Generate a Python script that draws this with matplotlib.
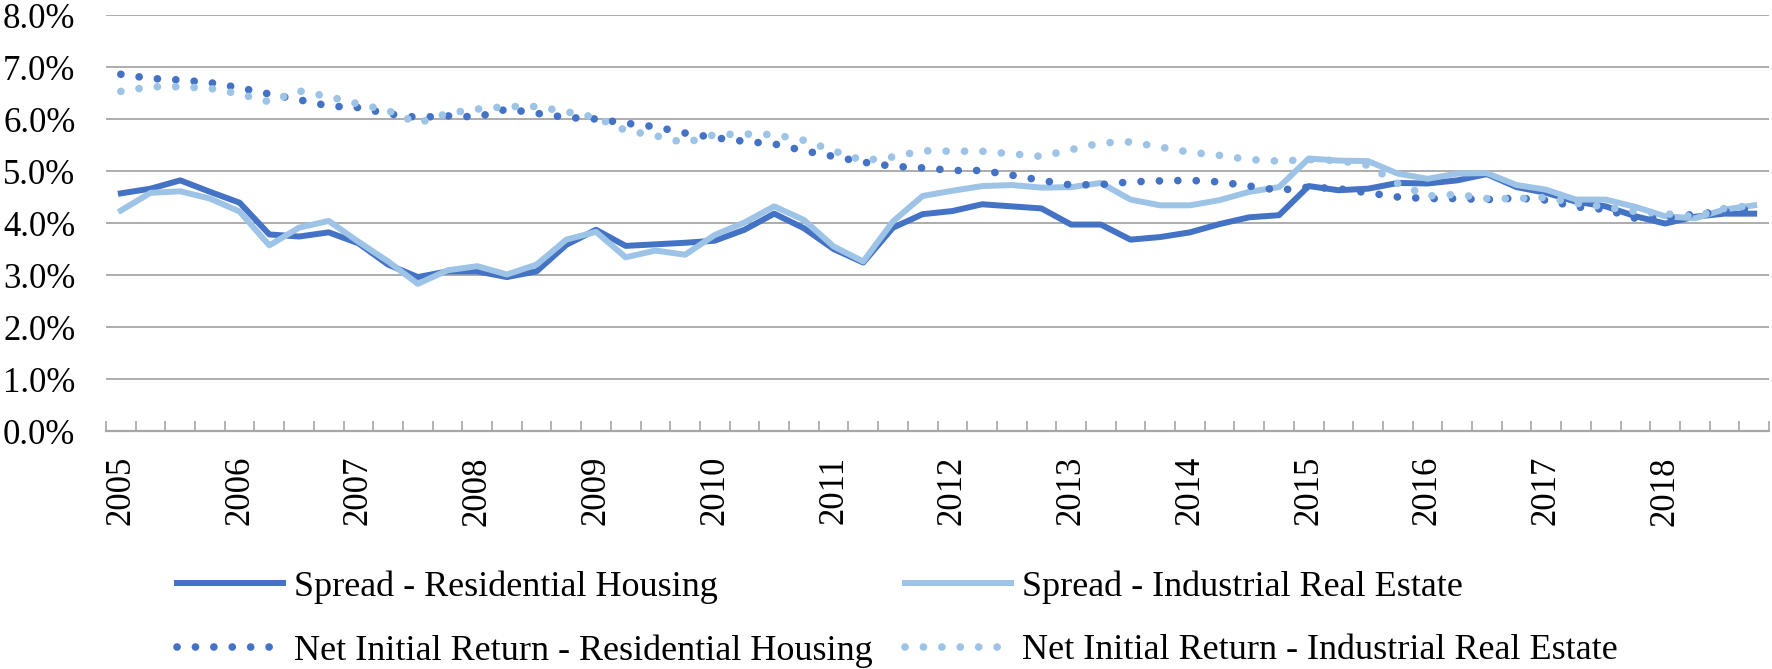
import numpy as np
import matplotlib
matplotlib.use('Agg')
import matplotlib.pyplot as plt
from matplotlib.ticker import PercentFormatter

plt.rcParams['font.family'] = ['Liberation Serif', 'DejaVu Serif']

years = [str(y) for y in range(2005, 2019)]
quarters = 56

spread_res = [4.57, 4.66, 4.82, 4.60, 4.39, 3.78, 3.74, 3.82, 3.61, 3.20, 2.96, 3.07, 3.07, 2.96,
              3.07, 3.58, 3.87, 3.56, 3.59, 3.62, 3.66, 3.87, 4.18, 3.90, 3.50, 3.24, 3.91, 4.17,
              4.23, 4.36, 4.32, 4.28, 3.97, 3.97, 3.68, 3.73, 3.82, 3.98, 4.11, 4.15, 4.71, 4.63,
              4.66, 4.77, 4.76, 4.82, 4.94, 4.69, 4.58, 4.41, 4.32, 4.13, 3.99, 4.12, 4.18, 4.18]
spread_ind = [4.24, 4.58, 4.61, 4.47, 4.22, 3.57, 3.91, 4.04, 3.64, 3.26, 2.83, 3.09, 3.17, 3.01,
              3.20, 3.68, 3.83, 3.34, 3.47, 3.39, 3.77, 4.01, 4.32, 4.06, 3.55, 3.26, 4.03, 4.52,
              4.62, 4.71, 4.73, 4.68, 4.69, 4.77, 4.45, 4.34, 4.34, 4.44, 4.60, 4.69, 5.24, 5.20,
              5.19, 4.95, 4.85, 4.95, 4.96, 4.73, 4.64, 4.45, 4.45, 4.31, 4.13, 4.09, 4.26, 4.34]
nir_res = [6.86, 6.78, 6.75, 6.70, 6.60, 6.48, 6.37, 6.25, 6.22, 6.10, 6.03, 6.06, 6.04, 6.19,
           6.11, 6.03, 6.00, 5.92, 5.85, 5.73, 5.64, 5.57, 5.52, 5.39, 5.28, 5.17, 5.09, 5.06,
           5.01, 5.01, 4.92, 4.82, 4.73, 4.74, 4.79, 4.81, 4.82, 4.79, 4.71, 4.63, 4.69, 4.66,
           4.58, 4.50, 4.47, 4.47, 4.45, 4.48, 4.44, 4.31, 4.26, 4.09, 4.09, 4.17, 4.22, 4.28]
nir_ind = [6.53, 6.62, 6.62, 6.59, 6.48, 6.33, 6.54, 6.43, 6.29, 6.16, 5.92, 6.11, 6.19, 6.24,
           6.24, 6.14, 6.03, 5.78, 5.68, 5.54, 5.70, 5.71, 5.70, 5.59, 5.39, 5.20, 5.27, 5.39,
           5.38, 5.38, 5.33, 5.28, 5.41, 5.54, 5.56, 5.46, 5.36, 5.30, 5.22, 5.19, 5.22, 5.20,
           5.11, 4.76, 4.52, 4.55, 4.47, 4.47, 4.49, 4.38, 4.31, 4.22, 4.18, 4.12, 4.28, 4.34]

dark = '#4472C4'
light = '#9DC3E6'
grey = '#A6A6A6'
fs = 25

fig = plt.figure(figsize=(17.72, 6.69), dpi=100)
ax = fig.add_axes([106/1772, 1 - 431/669, 1663/1772, 416/669])

x = np.arange(quarters) + 0.5
dots = (0, (0.01, 2.4))
l1, = ax.plot(x, spread_res, color=dark, lw=4.3, solid_joinstyle='round',
              label='Spread - Residential Housing')
l2, = ax.plot(x, spread_ind, color=light, lw=4.3, solid_joinstyle='round',
              label='Spread - Industrial Real Estate')
l3, = ax.plot(x, nir_res, color=dark, lw=5.5, linestyle=dots, dash_capstyle='round',
              label='Net Initial Return - Residential Housing')
l4, = ax.plot(x, nir_ind, color=light, lw=5.5, linestyle=dots, dash_capstyle='round',
              label='Net Initial Return - Industrial Real Estate')

ax.set_xlim(0, quarters)
ax.set_ylim(0, 8)
ax.set_yticks(np.arange(0, 9, 1))
ax.yaxis.set_major_formatter(PercentFormatter(xmax=100, decimals=1))
ax.grid(axis='y', color=grey, lw=1.3)
ax.set_axisbelow(True)
for s in ['left', 'right', 'top']:
    ax.spines[s].set_visible(False)
ax.spines['bottom'].set_color(grey)
ax.spines['bottom'].set_linewidth(1.6)

ax.set_xticks(np.arange(0, quarters + 1))
ax.set_xticklabels([])
ax.tick_params(axis='x', which='major', direction='in', length=7.5, width=1.2, color=grey)
ax.set_xticks(np.arange(0, quarters, 4) + 0.5, minor=True)
ax.set_xticklabels(years, minor=True, rotation=90, fontsize=fs)
ax.tick_params(axis='x', which='minor', length=0, pad=18)
ax.tick_params(axis='y', length=0, pad=22, labelsize=fs)

fig.legend(handles=[l1, l3, l2, l4], ncol=2, loc='upper left',
           bbox_to_anchor=(177/1772, 1 - 570/669), frameon=False, fontsize=26,
           handlelength=2.94, handletextpad=0.3, columnspacing=0.9,
           labelspacing=0.85, borderpad=0, borderaxespad=0)

fig.savefig('out.png', dpi=100)
